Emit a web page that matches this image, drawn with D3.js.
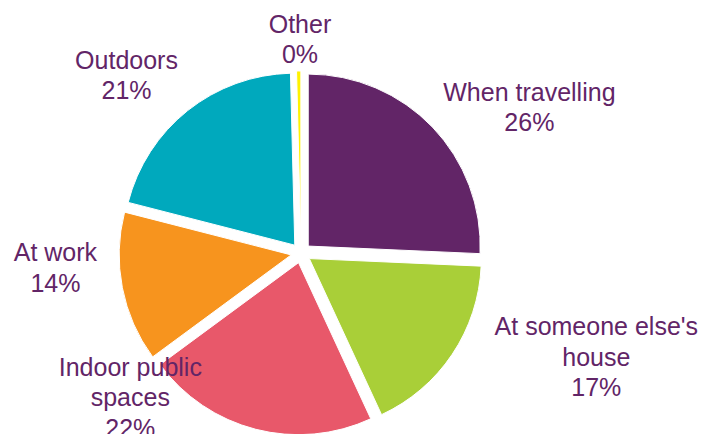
<!DOCTYPE html>
<html>
<head>
<meta charset="utf-8">
<script src="https://cdnjs.cloudflare.com/ajax/libs/d3/7.8.5/d3.min.js"></script>
<style>
body { margin: 0; background: #fff; }
</style>
</head>
<body>
<div id="chart"></div>
<script>
// slices, clockwise from 12 o'clock
var categories = ["When travelling", "At someone else's house", "Indoor public spaces", "At work", "Outdoors", "Other"];
var values = [25.7, 17.4, 21.8, 14.1, 20.6, 0.4];
var colors = ["#622567", "#a9cf38", "#e8586a", "#f7941e", "#00a9bd", "#fff200"];

var width = 703, height = 434;
var cx = 301, cy = 253, radius = 172, explode = 10;
var fontSize = 25, lineH = 30.5;

// nudge of each label from a centroid at radius 240
var labelNudge = [[55, 20], [96, -30], [-111, -88], [-10, -31], [-25, 10], [2, 26]];

var data = categories.map(function(c, i) { return {name: c, value: values[i], color: colors[i]}; });

var svg = d3.select("#chart")
  .append("svg")
  .attr("width", width)
  .attr("height", height)
  .append("g")
  .attr("transform", "translate(" + cx + "," + cy + ")");

var pie = d3.pie()
  .sort(null)
  .value(function(d) { return d.value; });

var arc = d3.arc().innerRadius(0).outerRadius(radius);
var labelArc = d3.arc().innerRadius(240).outerRadius(240);

var arcs = pie(data);

function midAngle(d) { return (d.startAngle + d.endAngle) / 2; }

svg.selectAll("path")
  .data(arcs)
  .enter().append("path")
    .attr("d", arc)
    .attr("fill", function(d) { return d.data.color; })
    .attr("stroke", "#fff")
    .attr("stroke-width", 1)
    .attr("transform", function(d) {
      var a = midAngle(d);
      return "translate(" + (explode * Math.sin(a)) + "," + (-explode * Math.cos(a)) + ")";
    });

function wrap(name) {
  var words = name.split(" "), lines = [], cur = "";
  words.forEach(function(w) {
    var t = cur ? cur + " " + w : w;
    if (t.length > 17 && cur) { lines.push(cur); cur = w; }
    else cur = t;
  });
  lines.push(cur);
  return lines;
}

var capH = 0.716 * fontSize;

var labels = svg.selectAll("text.lbl")
  .data(arcs)
  .enter().append("text")
    .attr("class", "lbl")
    .attr("text-anchor", "middle")
    .attr("font-family", "'Liberation Sans', Arial, sans-serif")
    .attr("font-size", fontSize)
    .attr("fill", "#622567");

labels.each(function(d, i) {
  var lines = wrap(d.data.name).concat([Math.round(d.data.value) + "%"]);
  var c = labelArc.centroid(d);
  var x = c[0] + labelNudge[i][0];
  var my = c[1] + labelNudge[i][1];
  var y0 = my - ((lines.length - 1) * lineH + capH) / 2 + capH;
  var t = d3.select(this);
  lines.forEach(function(l, k) {
    t.append("tspan")
      .attr("x", x)
      .attr("y", y0 + k * lineH)
      .text(l);
  });
});
</script>
</body>
</html>
